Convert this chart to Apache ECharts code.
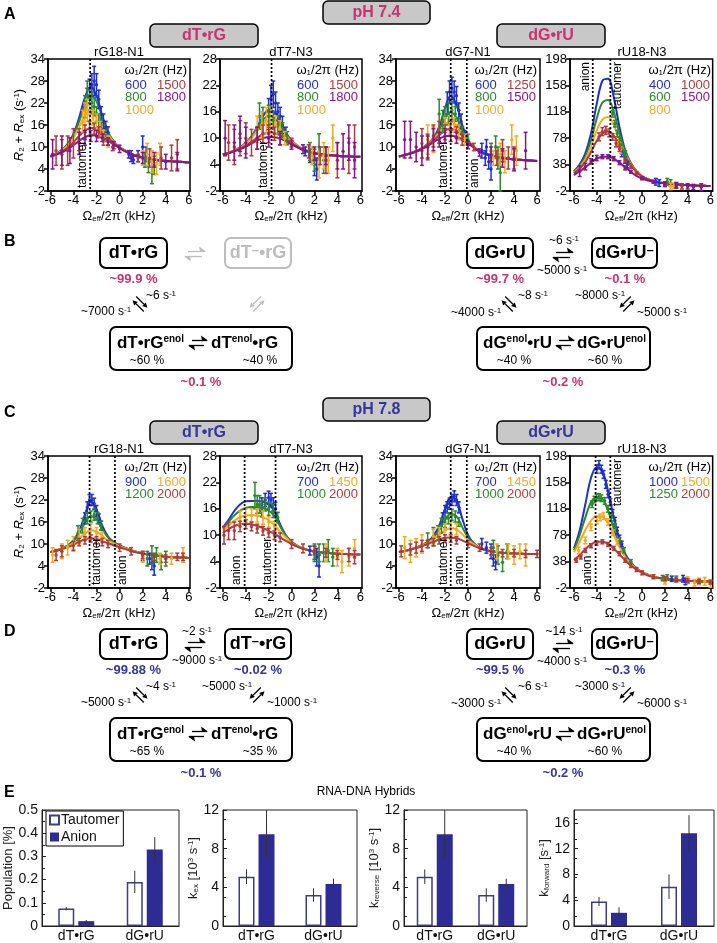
<!DOCTYPE html>
<html>
<head>
<meta charset="utf-8" />
<title>RNA-DNA hybrids</title>
<script src="https://cdn.jsdelivr.net/npm/echarts@6.0.0/dist/echarts.min.js"></script>
<style>body{margin:0;background:#fff}</style>
</head>
<body>
<div id="main" style="width:717px;height:943px"></div>
<script>
// ---------- data ----------
const omega = [-6,-5.5,-5,-4.5,-4,-3.5,-3,-2.5,-2,-1.5,-1,-0.5,0,0.5,1,1.5,2,2.5,3,3.5,4,4.5,5,5.5,6];
const xTicks = [-6,-4,-2,0,2,4,6];
const y34 = [-2,4,10,16,22,28,34];
const y28 = [-2,4,10,16,22,28];
const y198 = [-2,38,78,118,158,198];

// pH 7.4, rG18-N1
const a1Freq = ['600','800','1000','1500','1800'];
const a1Curves = [
  [7.5,8.2,9.2,10.8,13.5,18,23.5,26.5,24,18.5,14,11.5,10,9,8.2,7.6,7.2,6.9,6.6,6.4,6.2,6.1,6,5.9,5.8],
  [7.5,8.2,9.2,10.8,13.2,17,21.5,24,22.5,18,14,11.5,10,9,8.2,7.6,7.2,6.9,6.6,6.4,6.2,6.1,6,5.9,5.8],
  [7.5,8.1,9,10.4,12.5,15.5,18.5,20,19.5,16.5,13.5,11.3,10,9,8.2,7.6,7.2,6.9,6.6,6.4,6.2,6.1,6,5.9,5.8],
  [7.4,8,8.7,9.8,11.3,13,14.5,15.2,15,14,12.5,11,9.8,8.8,8.1,7.5,7.1,6.8,6.5,6.3,6.2,6.1,6,5.9,5.8],
  [7.4,7.9,8.5,9.4,10.5,11.7,12.7,13.2,13.1,12.6,11.7,10.7,9.7,8.8,8.1,7.5,7.1,6.8,6.5,6.3,6.2,6.1,6,5.9,5.8]
];
const a1Points = [
  [[-2.8,24,2],[-2.6,26,2.5],[-2.4,27,3],[-2.2,28,4],[-2,27,3],[-1.8,23,2.5],[-1.6,19,2],[-1.4,17,2],[-1.2,15.5,1.5],[-1,14,1.5],[0.8,8,1],[1,7,1],[1.2,6.5,1],[1.6,7.5,1.5],[2,10,3],[2.3,8,2]],
  [[-3,21,3],[-2.8,24,4],[-2.6,23,3],[-2.4,22,3],[-2.2,21,2.5],[-2,19,2],[-1.8,17,2],[-1.6,15,2],[-1.3,13,1.5],[-1,12,1.5],[2.2,6.5,2],[2.5,5,2],[2.8,3,3],[3,5,2.5]],
  [[-3.2,17,3],[-3,19,3],[-2.8,20,3],[-2.6,19,2.5],[-2.3,18,2],[-2,17,2],[-1.7,15,2],[-1.4,13,1.5],[-1,11.5,1.5],[2,7,2],[2.4,8,3],[2.8,6,3],[3.2,5.5,3],[3.5,8,3]],
  [[-5.5,9,4],[-5,8,4],[-4.5,9,4],[-4,11,4],[-3.5,12,3],[-3,14,2],[-2.6,15,2],[-2.2,15,1.5],[-1.8,14,1.5],[-1.4,12,1.5],[-0.6,10,1],[1.6,7,1],[2.6,7,2.5],[3.6,7,3],[4.5,7,3.5],[5,8,4]],
  [[-5.8,8,4],[-5,9,4],[-4.3,9,3.5],[-3.5,11,3],[-3,12.5,2],[-2.5,13,1.5],[-2,13,1.5],[-1.5,12.5,1],[-1,11.5,1],[-0.5,10.5,1],[0,9.5,1],[1,8,1],[2,7,1.5],[3,6.5,2],[4,6,2],[5,6,2.5]]
];
const a1Lines = [-2.55];
const a1LineNames = ['tautomer'];

// pH 7.4, dT7-N3
const a2Freq = ['600','800','1000','1500','1800'];
const a2Curves = [
  [6.3,6.7,7.2,7.9,8.9,10.4,12.6,15,16.4,16,13.8,11.3,9.5,8.3,7.5,7,6.7,6.4,6.2,6.1,6,5.9,5.9,5.8,5.8],
  [6.3,6.7,7.2,7.9,8.9,10.3,12.3,14.2,15,14.6,13,11,9.4,8.3,7.5,7,6.7,6.4,6.2,6.1,6,5.9,5.9,5.8,5.8],
  [6.3,6.7,7.2,7.8,8.8,10,11.7,13.2,13.9,13.6,12.3,10.7,9.3,8.2,7.5,7,6.7,6.4,6.2,6.1,6,5.9,5.9,5.8,5.8],
  [6.3,6.6,7.1,7.6,8.3,9.2,10.1,10.9,11.3,11.2,10.6,9.8,8.9,8.1,7.4,6.9,6.6,6.4,6.2,6.1,6,5.9,5.9,5.8,5.8],
  [6.3,6.6,7,7.5,8.1,8.8,9.5,10,10.3,10.2,9.9,9.3,8.6,7.9,7.3,6.9,6.6,6.4,6.2,6.1,6,5.9,5.9,5.8,5.8]
];
const a2Points = [
  [[-2,16,3],[-1.8,19,3],[-1.6,20,3],[-1.4,18,2.5],[-1.2,16,2],[-1,15,2],[-0.8,13,2],[-0.5,11,1.5],[1.2,7,1],[1.6,6,1.5],[2,4,2.5],[2.2,3,2.5]],
  [[-2.8,15,3],[-2.5,14,3],[-2,15,2.5],[-1.6,14,2],[-1.2,13,2],[-0.8,12,1.5],[-0.4,10,1.5],[1.6,7,2],[2,5,2.5],[2.4,8,3],[2.8,5,3]],
  [[-3,12,3],[-2.6,13,3],[-2.2,14,3],[-1.8,14,3],[-1.4,13,2],[-1,12,2],[-0.6,10,1.5],[1.8,6,2],[2.4,4,3],[2.8,6,3],[3.2,5,3],[3.6,10,3]],
  [[-5.5,9,4],[-5,8,4],[-4.5,10,4],[-4,10,3.5],[-3.5,9,3],[-3,10,2.5],[-2.5,11,2],[-2,11,2],[-1.5,11,1.5],[-1,10,1.5],[0,9,1],[1.5,7,1.5],[2.5,6,2],[3,5,3],[4,5,4],[5,6,4],[5.5,8,5]],
  [[-5.8,10,4],[-5,9,4],[-4.5,11,4],[-4,9,3.5],[-3,10,2.5],[-2,10,2],[-1,10,1.5],[0,8.5,1],[1,7.5,1],[2,6.5,1.5],[3,6,2],[4,6,3],[4.5,7,4],[5,9,4],[5.5,5,4]]
];
const a2Lines = [-1.75];
const a2LineNames = ['tautomer'];

// pH 7.4, dG7-N1
const a3Freq = ['600','800','1000','1250','1500'];
const a3Curves = [
  [7.4,7.8,8.3,8.9,9.7,10.8,12.5,15.5,20.5,24,21.5,16,12,10,8.9,8.2,7.7,7.3,7,6.8,6.6,6.5,6.4,6.3,6.2],
  [7.4,7.8,8.3,8.9,9.7,10.8,12.3,14.7,17.8,19.5,18,14.5,11.8,10,8.9,8.2,7.7,7.3,7,6.8,6.6,6.5,6.4,6.3,6.2],
  [7.4,7.8,8.3,8.9,9.7,10.7,12.1,14,16,17,16,13.7,11.6,9.9,8.9,8.2,7.7,7.3,7,6.8,6.6,6.5,6.4,6.3,6.2],
  [7.4,7.8,8.3,8.8,9.6,10.6,11.8,13.2,14.5,15,14.5,13,11.4,9.9,8.8,8.1,7.6,7.3,7,6.8,6.6,6.5,6.4,6.3,6.2],
  [7.4,7.8,8.2,8.7,9.4,10.3,11.3,12.3,12.9,13.1,12.8,12,11,9.8,8.8,8.1,7.6,7.2,7,6.8,6.6,6.5,6.4,6.3,6.2]
];
const a3Points = [
  [[-1.8,22,3],[-1.6,25,3],[-1.4,26,3],[-1.2,25,3],[-1,24,2.5],[-0.8,20,2],[-0.6,17,2],[-0.3,13,1.5],[1.2,9,2],[1.5,7,2],[1.6,10,2],[1.8,6,2],[2,4,3]],
  [[-2.5,19,4],[-2.2,17,3],[-2,18,3],[-1.7,19,3],[-1.4,20,2.5],[-1.1,19,2],[-0.8,16,2],[-0.5,14,1.5],[0,12,1.5],[2,9,2],[2.4,10,3],[2.6,7,3],[2.8,3,5]],
  [[-3.5,12,4],[-3,12,3.5],[-2.5,14,3],[-2,15,3],[-1.6,16,2.5],[-1.2,16,2],[-0.8,14,2],[-0.3,12,1.5],[2.2,7,2],[2.8,8,3],[3.2,6,3],[3.8,12,4],[4.2,9,4]],
  [[-4,11,4],[-3.5,10,3.5],[-3,13,3],[-2.5,14,3],[-2,14,2],[-1.5,15,2],[-1,14,1.5],[-0.5,12,1.5],[0.5,10,1],[2.5,7,2],[3,9,3],[3.5,7,3],[4,7,3]],
  [[-5.5,12,5],[-5,12,5],[-4.5,10,4],[-4,9,4],[-3.5,10,3],[-3,12,3],[-2.5,12,2],[-2,13,2],[-1.5,13,1.5],[-1,12.5,1.5],[0,10.5,1],[1,8.5,1],[2,8,2],[3,7,2.5],[4,6.5,3],[5,9,5]]
];
const a3Lines = [-1.5, -0.1];
const a3LineNames = ['tautomer', 'anion'];

// pH 7.4, rU18-N3
const a4Freq = ['400','600','800','1000','1500'];
const a4Curves = [
  [28,38,55,85,130,165,168,140,95,60,40,28,20,16,13,11,10,9,8,7.5,7,6.5,6,5.8,5.5],
  [27,36,50,75,108,132,136,118,85,58,40,28,20,16,13,11,10,9,8,7.5,7,6.5,6,5.8,5.5],
  [26,34,46,66,90,106,110,98,75,54,38,28,20,16,13,11,10,9,8,7.5,7,6.5,6,5.8,5.5],
  [25,32,42,57,74,85,88,82,67,50,37,27,20,16,13,11,10,9,8,7.5,7,6.5,6,5.8,5.5],
  [22,28,34,41,47,50,50,47,41,34,27,21,17,14,12,10.5,9.5,8.5,8,7.5,7,6.5,6,5.8,5.5]
];
const a4Points = [
  [[-1.8,55,5],[-1.5,45,5],[-1.3,38,5],[1.2,12,5],[1.5,10,5]],
  [[-2.6,115,5],[-2.4,100,5],[-2.2,85,5],[-2,75,5],[-1.8,65,4],[-1.5,55,4],[2.2,12,5],[2.5,10,5]],
  [[-2.2,70,5],[-1.9,60,5],[2,8,4],[2.5,5,5],[2.8,6,4]],
  [[-3.8,80,6],[-3.5,88,6],[-3.2,90,6],[-2.9,86,6],[-2.6,80,5],[-2.3,70,5],[-2,62,4],[-1.5,45,3],[-1,35,3],[-0.5,25,2],[0,18,2],[1,12,2],[2,8,3],[3,6,4],[3.5,5,4]],
  [[-5.5,28,8],[-5,35,5],[-4.5,43,4],[-4,48,4],[-3.5,50,3],[-3,50,3],[-2.5,47,3],[-2,41,3],[-1.5,33,3],[-1,27,2],[0,17,2],[1,12,2],[2,9,3],[3,7,4],[4,5,4],[4.5,4,4],[5.2,4,5]]
];
const a4Lines = [-4.35, -2.8];
const a4LineNames = ['anion', 'tautomer'];

// pH 7.8, rG18-N1
const c1Freq = ['900','1200','1600','2000'];
const c1Curves = [
  [7.8,8.2,8.8,9.6,11,13.5,18,21.5,19.5,15,12,10.5,9.6,8.9,8.3,7.8,7.4,7.1,6.9,6.7,6.5,6.4,6.3,6.3,6.2],
  [7.8,8.2,8.8,9.5,10.8,12.8,15.8,17.6,16.7,14,11.8,10.4,9.5,8.9,8.3,7.8,7.4,7.1,6.9,6.7,6.5,6.4,6.3,6.3,6.2],
  [7.8,8.2,8.7,9.3,10.3,11.5,12.9,13.7,13.4,12.2,11,10.1,9.4,8.8,8.2,7.8,7.4,7.1,6.9,6.7,6.5,6.4,6.3,6.3,6.2],
  [7.8,8.1,8.6,9.1,9.8,10.6,11.3,11.6,11.4,10.8,10.2,9.6,9.1,8.6,8.1,7.7,7.4,7.1,6.9,6.7,6.5,6.4,6.3,6.3,6.2]
];
const c1Points = [
  [[-3,17,1.5],[-2.8,20,1.5],[-2.6,22,1.5],[-2.4,22,1.5],[-2.2,21,1.5],[-2,19,1.5],[-1.8,17,1.2],[-1.6,15,1.2],[2,6.5,1],[2.6,6,1.5],[2.8,5,2],[3,4,2.5]],
  [[-3.6,13,2],[-3.2,15,2],[-2.8,17,1.5],[-2.5,17.5,1.5],[-2.2,18,1.5],[-1.9,17,1.5],[-1.6,15,1.2],[2.4,6,2],[2.8,7,2.5],[3.2,7,2],[3.6,5,2],[4,6,2]],
  [[-5.8,7,2],[-5,8,2],[-4.5,9,2],[-4,10,2],[-3.5,12,2],[-3,13,1.5],[-2.5,14,1.5],[-2,13,1.5],[-1.5,12,1.2],[2,6.5,1.5],[3.5,6,1.5],[4.5,6,1.5],[5.5,7,2]],
  [[-5.5,7,1.5],[-5,8,1.5],[-4,9.5,1.2],[-3.5,10.5,1],[-3,11,1],[-2.5,11.5,1],[-2,11,1],[-1.5,10.5,1],[-1,10,1],[0,9,1],[1,8,1],[2,7,1],[3,6.5,1],[4,6,1],[5,6.5,1],[5.5,6.5,1]]
];
const c1Lines = [-2.6, -0.4];
const c1LineNames = ['tautomer', 'anion'];

// pH 7.8, dT7-N3
const c2Freq = ['700','1000','1450','2000'];
const c2Curves = [
  [11.7,13.5,15.5,17,17.7,17.8,17.8,17.6,17,15.5,12.5,10,8.5,7.6,7,6.6,6.3,6.1,6,5.9,5.8,5.7,5.7,5.6,5.6],
  [11.5,13,14.5,15.6,16.2,16.4,16.4,16.2,15.6,14.3,12,9.9,8.5,7.6,7,6.6,6.3,6.1,6,5.9,5.8,5.7,5.7,5.6,5.6],
  [11,12.2,13.3,14.1,14.5,14.6,14.5,14.1,13.4,12.3,10.8,9.5,8.3,7.5,7,6.6,6.3,6.1,6,5.9,5.8,5.7,5.7,5.6,5.6],
  [10.5,11.4,12.1,12.5,12.6,12.5,12.1,11.6,11,10.3,9.5,8.7,8,7.4,6.9,6.6,6.3,6.1,6,5.9,5.8,5.7,5.7,5.6,5.6]
];
const c2Points = [
  [[-2.6,17,1.5],[-2.3,18,1.5],[-2,18.5,1.5],[-1.8,18,1.5],[-1.6,17,1.5],[-1.4,16,1.5],[1.6,6.5,1],[2,6,1.5],[2.2,5,2],[2.4,3,2.5]],
  [[-3.2,19,3],[-3,17,2],[-2.8,17,2],[-2.6,16,1.8],[-2.3,17,1.5],[-2,16,1.5],[-1.6,15.5,1.5],[-1.2,14,1.2],[2,6,2],[2.4,6,2],[2.8,6,2],[3.2,6.5,2.5],[3.6,5,2]],
  [[-4.5,14,1.5],[-4,14.5,1.5],[-3.5,14.5,1.5],[-3,14.5,1.5],[-2.5,14,1.5],[-2,13,1.2],[-1.5,12,1.2],[3,6,2],[4,5,2],[4.4,4,2.5],[5,5,2],[5.5,7,2]],
  [[-5.9,10,2],[-5.5,11,2],[-5,11,2],[-4.5,12,1.2],[-4,12.5,1],[-3.5,12,1],[-3,11.5,1],[-2.5,11,1],[-2,10.5,1],[-1.5,10,1],[-1,9.5,1],[0,8,1],[1,7,1],[2,6.5,1],[3,6,1],[4,5.5,1],[5,5.5,1.5],[5.5,5,1.5]]
];
const c2Lines = [-4.1, -1.4];
const c2LineNames = ['anion', 'tautomer'];

// pH 7.8, dG7-N1
const c3Freq = ['700','1000','1450','2000'];
const c3Curves = [
  [7.8,8.1,8.5,9,9.7,10.6,12.2,15,19.5,22.8,22,17,12.5,10.2,9,8.4,8,7.8,7.6,7.5,7.4,7.4,7.3,7.3,7.3],
  [7.8,8.1,8.5,9,9.7,10.5,11.8,13.8,16.5,18.2,17.6,14.6,11.8,10.1,9,8.4,8,7.8,7.6,7.5,7.4,7.4,7.3,7.3,7.3],
  [7.8,8.1,8.5,9,9.6,10.3,11.3,12.5,13.7,14.3,14,12.7,11.1,9.9,9,8.4,8,7.8,7.6,7.5,7.4,7.4,7.3,7.3,7.3],
  [7.8,8.1,8.5,8.9,9.4,10,10.6,11.2,11.7,11.8,11.6,11,10.2,9.5,8.9,8.4,8,7.8,7.6,7.5,7.4,7.4,7.3,7.3,7.3]
];
const c3Points = [
  [[-2.2,17,1.5],[-2,19,1.5],[-1.8,20,1.5],[-1.6,21,1.5],[-1.4,22,1.5],[-1.2,23,1.5],[-1,22,1.5],[-0.8,20,1.5],[1.2,10,1.5],[1.6,9,1.5],[2,8,2],[2.2,6,2],[2.4,5,2]],
  [[-3.5,11,2],[-3,12,2.5],[-2.6,13,2],[-2.3,15,2],[-2,16,1.5],[-1.7,17,1.5],[-1.4,18,1.5],[-1.1,17.5,1.5],[-0.8,16,1.2],[2.2,9,2],[2.6,7,2.5],[3,5,2.5],[3.4,8,2]],
  [[-5.5,9,3],[-5,8,3],[-4.5,9,2.5],[-4,10,2.5],[-3,12,2],[-2.5,13,1.5],[-2,14,1.5],[-1.5,14.5,1.5],[-1,14,1.5],[2.5,8,2],[3.5,8,2],[4,7,2.5],[4.5,8,2],[5,7,3]],
  [[-5.8,8,1.5],[-5,8.5,1.5],[-4.5,9,1.5],[-4,9.5,1.5],[-3.5,10,1],[-3,10.5,1],[-2.5,11,1],[-2,11.5,1],[-1.5,11.5,1],[-1,11,1],[0,10,1],[1,9,1],[2,8,1],[3,7.5,1],[4,7.5,1],[5,7.3,1],[6,7.3,1]]
];
const c3Lines = [-1.5, -0.1];
const c3LineNames = ['tautomer', 'anion'];

// pH 7.8, rU18-N3
const c4Freq = ['1000','1250','1500','2000'];
const c4Curves = [
  [58,85,125,165,181,175,145,105,72,50,37,28,22,18,15,13,12,11,10,9.5,9,8.5,8,8,8],
  [55,78,105,128,136,133,115,88,64,47,35,27,22,18,15,13,12,11,10,9.5,9,8.5,8,8,8],
  [52,68,86,100,107,106,96,78,60,45,35,27,21,18,15,13,12,11,10,9.5,9,8.5,8,8,8],
  [40,48,57,64,68,68,65,58,49,40,32,26,21,17,14.5,13,12,11,10,9.5,9,8.5,8,8,8]
];
const c4Points = [
  [[-4,178,6],[-3.8,185,6],[-3.6,178,6],[-3.4,170,6],[-3.2,155,6],[-3,140,5],[-2.8,128,5],[-2.6,112,5],[-2.4,100,5],[-2.2,85,5],[-2,74,4],[-1.8,65,4],[2.6,12,4],[3.6,12,5],[3.8,8,5]],
  [[-4.4,125,5],[-4.2,132,5],[-4,135,5],[-3.8,136,5],[-3.6,134,5],[-3.3,130,5],[-3,118,5],[-2.7,105,5],[-2.4,92,4],[-2,70,4],[-1.6,55,4],[-1,38,3],[1.8,13,4],[2.2,14,4],[3,12,4]],
  [[-5.6,55,5],[-5,70,5],[-4.5,90,5],[-4,100,5],[-3.7,105,5],[-3.4,107,5],[-3,98,5],[-2.6,82,4],[-2.2,68,4],[2,8,4],[4,10,5],[4.6,6,5],[5,8,5],[5.5,8,6],[6,4,5]],
  [[-5.8,40,3],[-5.4,45,3],[-5,55,3],[-4.5,62,3],[-4,66,3],[-3.5,68,3],[-3,64,3],[-2.5,58,3],[-2,50,3],[-1.5,40,3],[-1,32,3],[-0.5,26,3],[0,21,3],[1,15,3],[2,12,3],[3,10,3],[4,9,3],[5,8,3],[6,7,3]]
];
const c4Lines = [-4.1, -2.8];
const c4LineNames = ['anion', 'tautomer'];

// panel E
const eCats = ['dT•rG', 'dG•rU'];
const popTaut = [0.075, 0.19],  popTautErr = [0.007, 0.048];
const popAnion = [0.021, 0.33], popAnionErr = [0.005, 0.053];
const kexTaut = [5.1, 3.2],     kexTautErr = [0.75, 0.7];
const kexAnion = [9.5, 4.35],   kexAnionErr = [2.5, 0.55];
const krevTaut = [5.1, 3.2],    krevTautErr = [0.75, 0.7];
const krevAnion = [9.5, 4.35],  krevAnionErr = [2.5, 0.55];
const kfwdTaut = [3.8, 6.1],    kfwdTautErr = [0.7, 1.9];
const kfwdAnion = [2.05, 14.4], kfwdAnionErr = [0.85, 2.8];

// ---------- styles / layout ----------
const FONT = '"Liberation Sans", Arial, Helvetica, sans-serif';
const PINK = '#c9326f', NAVY = '#35359b';
const PAL = ['#1f2fd1', '#2b8a2b', '#f7a91f', '#b13a3c', '#86168a'];
const TAUT_EDGE = '#3b3b8f', ANION_FILL = '#2c2c94';

const chart = echarts.init(document.getElementById('main'));
const grids = [], xAxes = [], yAxes = [], series = [], g = [];

function txt(x, y, text, o) {
  o = o || {};
  return {
    type: 'text', x: x, y: y, z: 100,
    style: {
      text: text, fontFamily: FONT, fontSize: o.size || 12,
      fontWeight: o.bold ? 'bold' : 'normal', fill: o.color || '#000',
      align: o.align || 'center', verticalAlign: o.va || 'middle', rich: o.rich
    }
  };
}
function rect(x, y, w, h, o) {
  o = o || {};
  return { type: 'rect', z: 90, shape: { x: x, y: y, width: w, height: h, r: o.r || 6 },
    style: { fill: o.fill || '#fff', stroke: o.stroke || '#000', lineWidth: o.lw || 2 } };
}
function arrow(x1, y1, x2, y2, color) {
  const dx = x2 - x1, dy = y2 - y1, L = Math.hypot(dx, dy), ux = dx / L, uy = dy / L;
  const bx = x2 - ux * 5, by = y2 - uy * 5;
  return [
    { type: 'line', z: 95, shape: { x1: x1, y1: y1, x2: bx, y2: by }, style: { stroke: color, lineWidth: 1.2 } },
    { type: 'polygon', z: 95, shape: { points: [[x2, y2], [bx - uy * 2.6, by + ux * 2.6], [bx + uy * 2.6, by - ux * 2.6]] }, style: { fill: color } }
  ];
}
function harp(cx, cy, len, color) {
  const h = len / 2;
  return [
    { type: 'line', z: 95, shape: { x1: cx - h + 3, y1: cy - 2.5, x2: cx + h, y2: cy - 2.5 }, style: { stroke: color, lineWidth: 1.3 } },
    { type: 'polygon', z: 95, shape: { points: [[cx + h + 1, cy - 2.5], [cx + h - 6, cy - 7.5], [cx + h - 5, cy - 2.5]] }, style: { fill: color } },
    { type: 'line', z: 95, shape: { x1: cx - h, y1: cy + 2.5, x2: cx + h - 3, y2: cy + 2.5 }, style: { stroke: color, lineWidth: 1.3 } },
    { type: 'polygon', z: 95, shape: { points: [[cx - h - 1, cy + 2.5], [cx - h + 6, cy + 7.5], [cx - h + 5, cy + 2.5]] }, style: { fill: color } }
  ];
}
function dpair(cx, cy, kind, color) {
  const s = Math.SQRT1_2, L = 8, o = 2.6;
  const d = kind === '\\' ? [s, s] : [s, -s];
  const p = kind === '\\' ? [s, -s] : [s, s];
  const a = [cx - o * p[0], cy - o * p[1]], b = [cx + o * p[0], cy + o * p[1]];
  return arrow(a[0] + L * d[0], a[1] + L * d[1], a[0] - L * d[0], a[1] - L * d[1], color)
    .concat(arrow(b[0] - L * d[0], b[1] - L * d[1], b[0] + L * d[0], b[1] + L * d[1], color));
}
const RICH = {
  u: { fontSize: 8, verticalAlign: 'top' },
  s: { fontSize: 8, verticalAlign: 'bottom' },
  e: { fontSize: 10, fontWeight: 'bold', verticalAlign: 'top' },
  m: { fontSize: 13, fontWeight: 'bold', verticalAlign: 'top' },
  i: { fontStyle: 'italic', fontSize: 13 }
};
function rate(x, y, text, color, align) {
  return txt(x, y, text, { size: 12, color: color || '#000', align: align || 'center', rich: RICH });
}

// ---------- dispersion plots (A, C) ----------
const ROW_A = 59, ROW_C = 456, PH = 132;
const dispLayout = [
  { left: 48, width: 142, xr: [-6.2, 6.1] },
  { left: 220, width: 142, xr: [-6.25, 6.15] },
  { left: 396, width: 144, xr: [-6.25, 6.25] },
  { left: 570, width: 144, xr: [-6.35, 6.2] }
];
// side of each dotted-line label: L/R of the line, B(ottom)/T(op) of the frame
const dispPlots = [
  { row: ROW_A, col: 0, title: 'rG18-N1', freq: a1Freq, curves: a1Curves, pts: a1Points, lines: a1Lines, names: a1LineNames, yt: y34, pos: [['L','B']] },
  { row: ROW_A, col: 1, title: 'dT7-N3', freq: a2Freq, curves: a2Curves, pts: a2Points, lines: a2Lines, names: a2LineNames, yt: y28, pos: [['L','B']] },
  { row: ROW_A, col: 2, title: 'dG7-N1', freq: a3Freq, curves: a3Curves, pts: a3Points, lines: a3Lines, names: a3LineNames, yt: y34, pos: [['L','B'],['R','B']] },
  { row: ROW_A, col: 3, title: 'rU18-N3', freq: a4Freq, curves: a4Curves, pts: a4Points, lines: a4Lines, names: a4LineNames, yt: y198, pos: [['L','T'],['R','T']] },
  { row: ROW_C, col: 0, title: 'rG18-N1', freq: c1Freq, curves: c1Curves, pts: c1Points, lines: c1Lines, names: c1LineNames, yt: y34, pos: [['R','B'],['R','B']] },
  { row: ROW_C, col: 1, title: 'dT7-N3', freq: c2Freq, curves: c2Curves, pts: c2Points, lines: c2Lines, names: c2LineNames, yt: y28, pos: [['L','B'],['L','B']] },
  { row: ROW_C, col: 2, title: 'dG7-N1', freq: c3Freq, curves: c3Curves, pts: c3Points, lines: c3Lines, names: c3LineNames, yt: y34, pos: [['L','B'],['L','B']] },
  { row: ROW_C, col: 3, title: 'rU18-N3', freq: c4Freq, curves: c4Curves, pts: c4Points, lines: c4Lines, names: c4LineNames, yt: y198, pos: [['L','B'],['R','T']] }
];

function errRender(color) {
  return function (params, api) {
    const cs = params.coordSys;
    const x = api.value(0), y = api.value(1), e = api.value(2);
    const c = api.coord([x, y]), t = api.coord([x, y + e]), b = api.coord([x, y - e]);
    const top = Math.max(cs.y, t[1]), bot = Math.min(cs.y + cs.height, b[1]);
    const st = { stroke: color, lineWidth: 1.5 };
    const kids = [{ type: 'line', shape: { x1: c[0], y1: top, x2: c[0], y2: bot }, style: st }];
    if (t[1] >= cs.y) kids.push({ type: 'line', shape: { x1: c[0] - 2, y1: top, x2: c[0] + 2, y2: top }, style: st });
    if (b[1] <= cs.y + cs.height) kids.push({ type: 'line', shape: { x1: c[0] - 2, y1: bot, x2: c[0] + 2, y2: bot }, style: st });
    kids.push({ type: 'circle', shape: { cx: c[0], cy: c[1], r: 1.7 }, style: { fill: color } });
    return { type: 'group', children: kids };
  };
}
function markRender(names, pos) {
  return function (params, api) {
    const cs = params.coordSys, i = params.dataIndex;
    const px = api.coord([api.value(0), api.value(1)])[0];
    const left = pos[i][0] === 'L', top = pos[i][1] === 'T';
    return { type: 'group', children: [
      { type: 'line', shape: { x1: px, y1: cs.y, x2: px, y2: cs.y + cs.height }, style: { stroke: '#000', lineWidth: 1.7, lineDash: [2, 2] } },
      { type: 'text', x: px + (left ? -1.5 : 1.5), y: top ? cs.y + 3 : cs.y + cs.height - 3, rotation: Math.PI / 2,
        style: { text: names[i], fontFamily: FONT, fontSize: 12, fill: '#000',
          align: top ? 'right' : 'left', verticalAlign: left ? 'bottom' : 'top' } }
    ] };
  };
}

dispPlots.forEach(function (p, gi) {
  const lay = dispLayout[p.col];
  const L = lay.left, T = p.row, W = lay.width, R = L + W;
  const axisStyle = { color: '#000', width: 1.5 };
  grids.push({ left: L, top: T, width: W, height: PH, show: true, borderColor: '#000', borderWidth: 1.5 });
  xAxes.push({
    type: 'value', gridIndex: gi, min: lay.xr[0], max: lay.xr[1],
    axisLine: { show: true, onZero: false, lineStyle: axisStyle },
    axisTick: { show: true, customValues: xTicks, length: 4, lineStyle: axisStyle },
    axisLabel: { customValues: xTicks, fontSize: 13, color: '#000', margin: 3, fontFamily: FONT },
    splitLine: { show: false },
    name: 'Ω{s|eff}/2π (kHz)', nameLocation: 'middle', nameGap: 19,
    nameTextStyle: { fontSize: 13, color: '#000', fontFamily: FONT, rich: { s: { fontSize: 8, verticalAlign: 'bottom' } } }
  });
  yAxes.push({
    type: 'value', gridIndex: gi, min: p.yt[0], max: p.yt[p.yt.length - 1],
    axisLine: { show: true, onZero: false, lineStyle: axisStyle },
    axisTick: { show: true, customValues: p.yt, length: 4, lineStyle: axisStyle },
    axisLabel: { customValues: p.yt, fontSize: 13, color: '#000', margin: 3, fontFamily: FONT },
    splitLine: { show: false },
    name: p.col === 0 ? '{i|R}{s|2} + {i|R}{s|ex} (s{u|-1})' : '',
    nameLocation: 'middle', nameGap: 22, nameRotate: 90,
    nameTextStyle: { fontSize: 13, color: '#000', fontFamily: FONT, rich: RICH }
  });
  p.curves.forEach(function (cv, k) {
    series.push({
      type: 'line', xAxisIndex: gi, yAxisIndex: gi, smooth: 0.35, showSymbol: false, silent: true,
      data: omega.map(function (x, j) { return [x, cv[j]]; }),
      lineStyle: { color: PAL[k], width: 2 }, z: 2
    });
  });
  p.pts.forEach(function (pts, k) {
    series.push({
      type: 'custom', xAxisIndex: gi, yAxisIndex: gi, data: pts, encode: { x: 0, y: 1 },
      renderItem: errRender(PAL[k]), z: 3, silent: true
    });
  });
  series.push({
    type: 'custom', xAxisIndex: gi, yAxisIndex: gi, z: 4, silent: true,
    data: p.lines.map(function (x) { return [x, p.yt[0]]; }), encode: { x: 0, y: 1 },
    renderItem: markRender(p.names, p.pos)
  });
  // title and in-plot legend
  g.push(txt(L + W / 2, T - 7, p.title, { size: 13 }));
  g.push(txt(R - 3, T + 11, 'ω{s|1}/2π (Hz)', { size: 13, align: 'right', rich: { s: { fontSize: 8, verticalAlign: 'bottom' } } }));
  const half = Math.ceil(p.freq.length / 2);
  p.freq.forEach(function (f, k) {
    const col = k < half ? 0 : 1, row = col === 0 ? k : k - half;
    g.push(txt(R - 65 + col * 32, T + 26 + row * 12.5, f, { size: 13, color: PAL[k], align: 'left' }));
  });
});

// ---------- headers ----------
function header(x, y, w, label, color) {
  g.push(rect(x, y, w, 23, { r: 5, fill: '#c8c8c8', lw: 1.5 }));
  g.push(txt(x + w / 2, y + 12, label, { size: 16, bold: true, color: color }));
}
header(323, 1, 107, 'pH 7.4', PINK);
header(150, 24, 108, 'dT•rG', PINK);
header(497, 24, 108, 'dG•rU', PINK);
header(323, 398, 107, 'pH 7.8', NAVY);
header(150, 421, 108, 'dT•rG', NAVY);
header(497, 421, 108, 'dG•rU', NAVY);

// panel letters
[['A', 15], ['B', 242], ['C', 413], ['D', 632], ['E', 793]].forEach(function (a) {
  g.push(txt(4, a[1], a[0], { size: 16, bold: true, align: 'left' }));
});

// ---------- kinetic schemes (B, D) ----------
function stateBox(x, y, w, label, color) {
  g.push(rect(x, y, w, 30, { stroke: color, lw: 2 }));
  g.push(txt(x + w / 2, y + 15, label, { size: 18, bold: true, color: color, rich: RICH }));
}
function scheme(y0, col, t) {
  const GRAY = '#bdbdbd';
  const side = t.gray ? GRAY : '#000';
  // left: dT•rG
  stateBox(100, 238 + y0, 67, 'dT•rG', '#000');
  g.push(txt(133.5, 279 + y0, t.p1, { size: 13, bold: true, color: col }));
  harp(195, 254 + y0, 20, side).forEach(function (e) { g.push(e); });
  if (t.r12) { g.push(rate(197, 241 + y0, t.r12[0])); g.push(rate(197, 270 + y0, t.r12[1])); }
  stateBox(225, 238 + y0, 66, 'dT{m|–}•rG', side);
  if (t.p2) g.push(txt(258, 279 + y0, t.p2, { size: 13, bold: true, color: col }));
  g.push(rate(161, 296 + y0, t.r13[0]));
  dpair(140, 304 + y0, '\\', '#000').forEach(function (e) { g.push(e); });
  g.push(rate(106, 312 + y0, t.r13[1]));
  if (t.r23) { g.push(rate(227, 296 + y0, t.r23[0])); g.push(rate(292, 312 + y0, t.r23[1])); }
  dpair(257, 304 + y0, '/', side).forEach(function (e) { g.push(e); });
  g.push(rect(110, 327 + y0, 182, 43, { lw: 2 }));
  g.push(txt(184, 343 + y0, 'dT•rG{e|enol}', { size: 17, bold: true, align: 'right', rich: RICH }));
  harp(198, 343 + y0, 18, '#000').forEach(function (e) { g.push(e); });
  g.push(txt(211, 343 + y0, 'dT{e|enol}•rG', { size: 17, bold: true, align: 'left', rich: RICH }));
  g.push(txt(147, 361 + y0, t.e1[0], { size: 12 }));
  g.push(txt(260, 361 + y0, t.e1[1], { size: 12 }));
  g.push(txt(201, 382 + y0, t.p3, { size: 13, bold: true, color: col }));
  // right: dG•rU
  stateBox(467, 238 + y0, 66, 'dG•rU', '#000');
  g.push(txt(500, 279 + y0, t.q1, { size: 13, bold: true, color: col }));
  harp(563, 255 + y0, 20, '#000').forEach(function (e) { g.push(e); });
  g.push(rate(564, 241 + y0, t.s12[0])); g.push(rate(562, 271 + y0, t.s12[1]));
  stateBox(592, 238 + y0, 65, 'dG•rU{m|–}', '#000');
  g.push(txt(625, 279 + y0, t.q2, { size: 13, bold: true, color: col }));
  g.push(rate(533, 296 + y0, t.s13[0]));
  dpair(509, 304 + y0, '\\', '#000').forEach(function (e) { g.push(e); });
  g.push(rate(476, 313 + y0, t.s13[1]));
  g.push(rate(600, 296 + y0, t.s23[0]));
  dpair(627, 304 + y0, '/', '#000').forEach(function (e) { g.push(e); });
  g.push(rate(662, 313 + y0, t.s23[1]));
  g.push(rect(477, 327 + y0, 173, 43, { lw: 2 }));
  g.push(txt(552, 343 + y0, 'dG{e|enol}•rU', { size: 17, bold: true, align: 'right', rich: RICH }));
  harp(565, 343 + y0, 18, '#000').forEach(function (e) { g.push(e); });
  g.push(txt(577, 343 + y0, 'dG•rU{e|enol}', { size: 17, bold: true, align: 'left', rich: RICH }));
  g.push(txt(514, 361 + y0, t.e2[0], { size: 12 }));
  g.push(txt(605, 361 + y0, t.e2[1], { size: 12 }));
  g.push(txt(563, 382 + y0, t.q3, { size: 13, bold: true, color: col }));
}
scheme(0, PINK, {
  gray: true, p1: '~99.9 %', p3: '~0.1 %', r13: ['~6 s{u|-1}', '~7000 s{u|-1}'], e1: ['~60 %', '~40 %'],
  q1: '~99.7 %', q2: '~0.1 %', q3: '~0.2 %', s12: ['~6 s{u|-1}', '~5000 s{u|-1}'],
  s13: ['~8 s{u|-1}', '~4000 s{u|-1}'], s23: ['~8000 s{u|-1}', '~5000 s{u|-1}'], e2: ['~40 %', '~60 %']
});
scheme(391, NAVY, {
  gray: false, p1: '~99.88 %', p2: '~0.02 %', p3: '~0.1 %', r12: ['~2 s{u|-1}', '~9000 s{u|-1}'],
  r13: ['~4 s{u|-1}', '~5000 s{u|-1}'], r23: ['~5000 s{u|-1}', '~1000 s{u|-1}'], e1: ['~65 %', '~35 %'],
  q1: '~99.5 %', q2: '~0.3 %', q3: '~0.2 %', s12: ['~14 s{u|-1}', '~4000 s{u|-1}'],
  s13: ['~6 s{u|-1}', '~3000 s{u|-1}'], s23: ['~3000 s{u|-1}', '~6000 s{u|-1}'], e2: ['~40 %', '~60 %']
});

// ---------- panel E bar charts ----------
g.push(txt(366, 792, 'RNA-DNA Hybrids', { size: 12 }));
const eLayout = [{ left: 42, width: 137 }, { left: 223, width: 134 }, { left: 404, width: 123 }, { left: 574, width: 140 }];
const ePlots = [
  { name: 'Population [%]', max: 0.5, ticks: [0, 0.1, 0.2, 0.3, 0.4, 0.5], t: popTaut, te: popTautErr, a: popAnion, ae: popAnionErr, gap: 23 },
  { name: 'k{s|ex} [10{u|3} s{u|-1}]', max: 12, ticks: [0, 4, 8, 12], t: kexTaut, te: kexTautErr, a: kexAnion, ae: kexAnionErr, gap: 7 },
  { name: 'k{s|reverse} [10{u|3} s{u|-1}]', max: 12, ticks: [0, 4, 8, 12], t: krevTaut, te: krevTautErr, a: krevAnion, ae: krevAnionErr, gap: 11 },
  { name: 'k{s|forward} [s{u|-1}]', max: 18, ticks: [0, 4, 8, 12, 16], t: kfwdTaut, te: kfwdTautErr, a: kfwdAnion, ae: kfwdAnionErr, gap: 6 }
];
function barErr(offset) {
  return function (params, api) {
    const i = api.value(0), v = api.value(1), e = api.value(2), cs = params.coordSys;
    const c = api.coord([i, v]), t = api.coord([i, v + e]), b = api.coord([i, v - e]);
    const x = c[0] + offset, top = Math.max(cs.y, t[1]);
    return { type: 'line', shape: { x1: x, y1: top, x2: x, y2: b[1] }, style: { stroke: '#333', lineWidth: 1 } };
  };
}
ePlots.forEach(function (p, j) {
  const gi = 8 + j, lay = eLayout[j];
  grids.push({ left: lay.left, top: 810, width: lay.width, height: 117, show: true, borderColor: '#222', borderWidth: 1 });
  xAxes.push({
    type: 'category', gridIndex: gi, data: eCats,
    axisLine: { lineStyle: { color: '#222', width: 1 } }, axisTick: { show: false },
    axisLabel: { fontSize: 14, color: '#111', margin: 3, fontFamily: FONT }
  });
  yAxes.push({
    type: 'value', gridIndex: gi, min: 0, max: p.max,
    axisLine: { show: true, lineStyle: { color: '#222', width: 1 } },
    axisTick: { show: true, inside: true, length: 4, customValues: p.ticks, lineStyle: { color: '#222' } },
    minorTick: { show: true, splitNumber: 2, length: 3, lineStyle: { color: '#222' } },
    axisLabel: { customValues: p.ticks, fontSize: 14, color: '#111', margin: 4, fontFamily: FONT },
    splitLine: { show: false },
    name: p.name, nameLocation: 'middle', nameGap: p.gap, nameRotate: 90,
    nameTextStyle: { fontSize: 13, color: '#222', fontFamily: FONT, rich: RICH }
  });
  series.push({
    type: 'bar', name: 'Tautomer', xAxisIndex: gi, yAxisIndex: gi, data: p.t, barWidth: 16, barGap: '25%',
    itemStyle: { color: '#fff', borderColor: TAUT_EDGE, borderWidth: 1.5 }, silent: true
  });
  series.push({
    type: 'bar', name: 'Anion', xAxisIndex: gi, yAxisIndex: gi, data: p.a, barWidth: 16,
    itemStyle: { color: ANION_FILL }, silent: true
  });
  series.push({
    type: 'custom', xAxisIndex: gi, yAxisIndex: gi, z: 5, silent: true, encode: { x: 0, y: 1 },
    data: p.t.map(function (v, i) { return [i, v, p.te[i]]; }), renderItem: barErr(-10)
  });
  series.push({
    type: 'custom', xAxisIndex: gi, yAxisIndex: gi, z: 5, silent: true, encode: { x: 0, y: 1 },
    data: p.a.map(function (v, i) { return [i, v, p.ae[i]]; }), renderItem: barErr(10)
  });
});

chart.setOption({
  backgroundColor: '#fff',
  animation: false,
  textStyle: { fontFamily: FONT },
  grid: grids, xAxis: xAxes, yAxis: yAxes, series: series,
  legend: {
    data: ['Tautomer', 'Anion'], left: 46, top: 811, orient: 'vertical', icon: 'rect',
    itemWidth: 9, itemHeight: 9, itemGap: 3, padding: [2, 4, 2, 3],
    borderColor: '#000', borderWidth: 1, selectedMode: false,
    textStyle: { fontSize: 14, color: '#111', fontFamily: FONT, padding: [0, 0, 0, -3] }
  },
  graphic: { elements: g }
});
</script>
</body>
</html>
